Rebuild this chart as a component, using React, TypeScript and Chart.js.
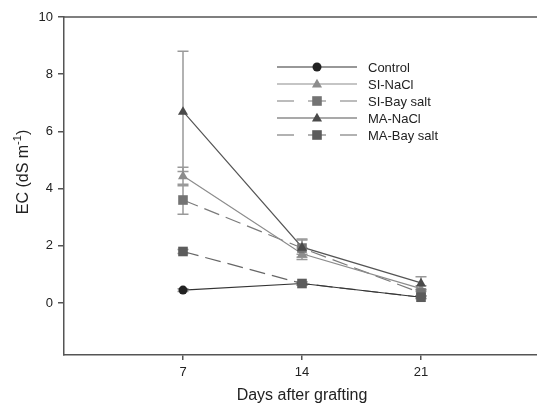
import React, { useEffect, useRef } from "react";
import { Chart, registerables } from "chart.js";

Chart.register(...registerables);

const days = [7, 14, 21];
const xTicks = [7, 14, 21];
const yTicks = [0, 2, 4, 6, 8, 10];

const controlVals = [0.45, 0.68, 0.2];
const controlErr = [0.05, 0.06, 0.04];
const siNaClVals = [4.45, 1.72, 0.5];
const siNaClErr = [0.3, 0.2, 0.1];
const siBayVals = [3.6, 1.92, 0.35];
const siBayErr = [0.5, 0.32, 0.1];
const maNaClVals = [6.7, 1.95, 0.7];
const maNaClErr = [2.1, 0.25, 0.22];
const maBayVals = [1.8, 0.68, 0.2];
const maBayErr = [0.07, 0.05, 0.04];

const seriesNames = ["Control", "SI-NaCl", "SI-Bay salt", "MA-NaCl", "MA-Bay salt"];

const FONT = "'Liberation Sans', Arial, sans-serif";

function drawMarker(ctx: CanvasRenderingContext2D, style: string, x: number, y: number, r: number, color: string) {
  ctx.save();
  ctx.fillStyle = color;
  ctx.setLineDash([]);
  ctx.beginPath();
  if (style === "circle") {
    ctx.arc(x, y, r, 0, Math.PI * 2);
  } else if (style === "triangle") {
    const h = r * 1.8;
    ctx.moveTo(x, y - h * 0.6);
    ctx.lineTo(x + r * 1.05, y + h * 0.4);
    ctx.lineTo(x - r * 1.05, y + h * 0.4);
    ctx.closePath();
  } else {
    ctx.rect(x - r, y - r, r * 2, r * 2);
  }
  ctx.fill();
  ctx.restore();
}

export default function App() {
  const ref = useRef<HTMLCanvasElement | null>(null);

  useEffect(() => {
    document.body.style.margin = "0";
    const canvas = ref.current;
    if (!canvas) return;

    const defs = [
      { vals: controlVals, err: controlErr, style: "circle", color: "#222222", line: "#333333", dash: [] as number[] },
      { vals: siNaClVals, err: siNaClErr, style: "triangle", color: "#8c8c8c", line: "#8c8c8c", dash: [] as number[] },
      { vals: siBayVals, err: siBayErr, style: "rect", color: "#737373", line: "#7a7a7a", dash: [16, 7] },
      { vals: maNaClVals, err: maNaClErr, style: "triangle", color: "#4a4a4a", line: "#555555", dash: [] as number[] },
      { vals: maBayVals, err: maBayErr, style: "rect", color: "#5c5c5c", line: "#666666", dash: [16, 7] },
    ];

    const datasets = defs.map((d, i) => ({
      label: seriesNames[i],
      data: days.map((x, j) => ({ x, y: d.vals[j] })),
      borderColor: d.line,
      backgroundColor: d.color,
      borderWidth: 1.2,
      borderDash: d.dash,
      pointStyle: "circle" as any,
      pointRadius: 0,
      fill: false,
      tension: 0,
    }));

    const errorPlugin = {
      id: "errbars",
      beforeDatasetsDraw(chart: any) {
        const ctx = chart.ctx;
        const ys = chart.scales.y;
        ctx.save();
        ctx.strokeStyle = "#999999";
        ctx.lineWidth = 1.5;
        defs.forEach((d, i) => {
          const meta = chart.getDatasetMeta(i);
          meta.data.forEach((pt: any, j: number) => {
            const x = pt.x;
            const yh = ys.getPixelForValue(d.vals[j] + d.err[j]);
            const yl = ys.getPixelForValue(d.vals[j] - d.err[j]);
            ctx.beginPath();
            ctx.moveTo(x, yh);
            ctx.lineTo(x, yl);
            ctx.moveTo(x - 5.5, yh);
            ctx.lineTo(x + 5.5, yh);
            ctx.moveTo(x - 5.5, yl);
            ctx.lineTo(x + 5.5, yl);
            ctx.stroke();
          });
        });
        ctx.restore();
      },
      afterDatasetsDraw(chart: any) {
        const ctx = chart.ctx;
        defs.forEach((d, i) => {
          const meta = chart.getDatasetMeta(i);
          meta.data.forEach((pt: any) => {
            drawMarker(ctx, d.style, pt.x, pt.y, d.style === "circle" ? 4.5 : 4.8, d.color);
          });
        });
      },
      afterDraw(chart: any) {
        const ctx = chart.ctx;
        const a = chart.chartArea;
        ctx.save();
        // top frame
        ctx.strokeStyle = "#555555";
        ctx.lineWidth = 1.5;
        ctx.beginPath();
        ctx.moveTo(a.left, a.top);
        ctx.lineTo(a.right, a.top);
        ctx.stroke();
        // legend
        const lx0 = 277, lx1 = 357, mx = 317, tx = 368;
        ctx.font = "13px " + FONT;
        ctx.textBaseline = "middle";
        ctx.textAlign = "left";
        defs.forEach((d, i) => {
          const y = 67 + i * 17;
          ctx.strokeStyle = d.line;
          ctx.lineWidth = 1.2;
          ctx.setLineDash(d.dash.length ? [16, 7] : []);
          ctx.beginPath();
          if (d.dash.length) {
            ctx.moveTo(lx0, y); ctx.lineTo(lx0 + 17, y);
            ctx.moveTo(mx - 9, y); ctx.lineTo(mx + 9, y);
            ctx.moveTo(lx1 - 17, y); ctx.lineTo(lx1, y);
          } else {
            ctx.moveTo(lx0, y); ctx.lineTo(lx1, y);
          }
          ctx.setLineDash([]);
          ctx.stroke();
          drawMarker(ctx, d.style, mx, y, d.style === "circle" ? 4.5 : 4.8, d.color);
          ctx.fillStyle = "#222222";
          ctx.fillText(seriesNames[i], tx, y + 1);
        });
        // y title with superscript
        ctx.translate(22, 172);
        ctx.rotate(-Math.PI / 2);
        ctx.fillStyle = "#222222";
        const main = "EC (dS m";
        const sup = "-1";
        const close = ")";
        ctx.font = "16px " + FONT;
        const w1 = ctx.measureText(main).width;
        const w3 = ctx.measureText(close).width;
        ctx.font = "11px " + FONT;
        const w2 = ctx.measureText(sup).width;
        const total = w1 + w2 + w3;
        let x = -total / 2;
        ctx.textAlign = "left";
        ctx.textBaseline = "alphabetic";
        ctx.font = "16px " + FONT;
        ctx.fillText(main, x, 6);
        x += w1;
        ctx.font = "11px " + FONT;
        ctx.fillText(sup, x, -1);
        x += w2;
        ctx.font = "16px " + FONT;
        ctx.fillText(close, x, 6);
        ctx.restore();
      },
    };

    const chart = new Chart(canvas, {
      type: "line",
      data: { datasets },
      plugins: [errorPlugin],
      options: {
        animation: false,
        responsive: false,
        layout: { padding: { top: 17, right: 8, left: 0, bottom: 0 } },
        plugins: { legend: { display: false }, tooltip: { enabled: false } },
        scales: {
          x: {
            type: "linear",
            min: 0,
            max: 28,
            afterBuildTicks: (s: any) => { s.ticks = xTicks.map((v) => ({ value: v })); },
            afterFit: (s: any) => { s.height = 50; },
            grid: { display: true, drawOnChartArea: false, drawTicks: true, tickLength: 5, tickColor: "#555555", lineWidth: 1.5 },
            border: { display: true, color: "#555555", width: 1.5 },
            ticks: { color: "#222222", font: { family: FONT, size: 13 }, padding: 5, maxRotation: 0 },
            title: { display: true, text: "Days after grafting", color: "#222222", font: { family: FONT, size: 16 }, padding: { top: 2, bottom: 0 } },
          },
          y: {
            type: "linear",
            min: -1.82,
            max: 10,
            afterBuildTicks: (s: any) => { s.ticks = yTicks.map((v) => ({ value: v })); },
            afterFit: (s: any) => { s.width = 64; },
            grid: { display: true, drawOnChartArea: false, drawTicks: true, tickLength: 6, tickColor: "#555555", lineWidth: 1.5 },
            border: { display: true, color: "#555555", width: 1.5 },
            ticks: { color: "#222222", font: { family: FONT, size: 13 }, padding: 5 },
            title: { display: false },
          },
        },
      },
    });
    return () => chart.destroy();
  }, []);

  return (
    <div style={{ width: 537, height: 405, overflow: "hidden", position: "relative", background: "#fff" }}>
      <canvas ref={ref} width={548} height={405} style={{ display: "block" }} />
    </div>
  );
}
